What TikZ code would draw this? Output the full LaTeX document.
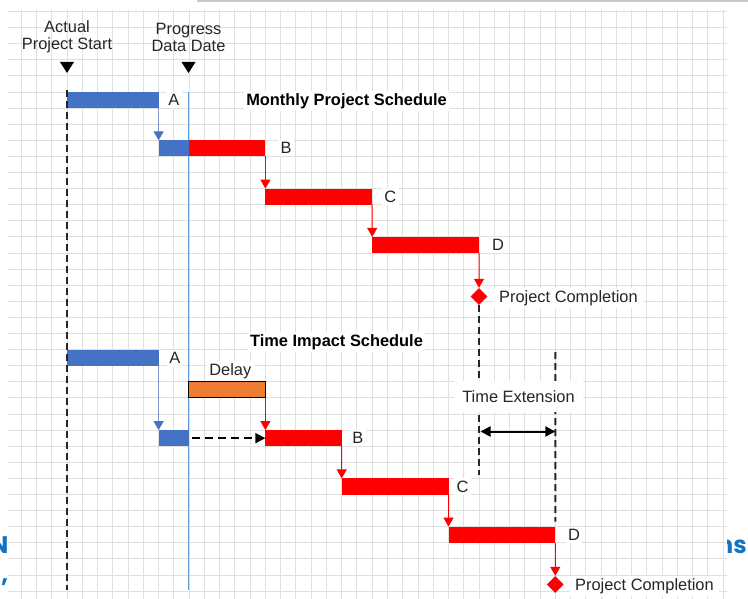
\documentclass[tikz,border=0pt]{standalone}
\usepackage{fontspec}
\setmainfont{Liberation Sans}
\newfontfamily\webfont{Poppins}
\usetikzlibrary{arrows.meta,shapes.geometric,calc}

\definecolor{barblue}{HTML}{4472C4}
\definecolor{barred}{HTML}{FF0000}
\definecolor{delayorange}{HTML}{ED7D31}
\definecolor{dateline}{HTML}{5B9BD5}
\definecolor{gridgray}{HTML}{E0E0E0}
\definecolor{ink}{HTML}{262626}
\definecolor{linkblue}{HTML}{1273C4}
\definecolor{linkline}{HTML}{7F96C8}
\definecolor{topbar}{HTML}{C8C8C8}

\begin{document}
\begin{tikzpicture}[x=1pt,y=-1pt,
  gridline/.style={draw=gridgray,line width=0.9pt},
  bar/.style={rectangle,inner sep=0pt,outer sep=0pt,anchor=north west,minimum height=16.1pt},
  bluebar/.style={bar,fill=barblue},
  redbar/.style={bar,fill=barred},
  delaybar/.style={bar,fill=delayorange,draw=black,line width=0.9pt},
  milestone/.style={diamond,fill=barred,inner sep=0pt,minimum size=17pt},
  txt/.style={text=ink,font=\fontsize{16.4}{17}\selectfont},
  lbl/.style={txt,fill=white,inner sep=2.5pt},
  heading/.style={lbl,text=black,font=\bfseries\fontsize{16.4}{19}\selectfont},
  bluelink/.style={draw=linkline,line width=1pt,-{Triangle[width=10pt,length=9pt,color=barblue]}},
  redlink/.style={draw=barred,line width=1pt,-{Triangle[width=10pt,length=9pt,color=barred]}},
  refline/.style={draw=ink,line width=2pt,dash pattern=on 7pt off 4pt},
  webfrag/.style={text=linkblue,inner sep=0pt,font=\webfont\bfseries\fontsize{24}{26}\selectfont}
]
\useasboundingbox (0,0) rectangle (748,599);
\fill[white] (0,0) rectangle (748,599);
\fill[topbar] (197,0) rectangle (748,2.5);

% page text running behind the figure
\begin{scope}
  \clip (0,0) rectangle (8,599);
  \node[webfrag,anchor=base east] (fragN) at (8.5,553) {N};
  \node[webfrag,anchor=base east] (fragComma) at (8.5,582) {,};
\end{scope}
\begin{scope}
  \clip (727,0) rectangle (748,599);
  \node[webfrag,anchor=base east] (fragNs) at (747,553) {ns};
\end{scope}

% squared paper
\begin{scope}
  \clip (8,11) rectangle (727,599);
  \foreach \k in {-4,...,43} \draw[gridline] ({67+15.26*\k},0) -- ++(0,599);
  \foreach \k in {-5,...,31} \draw[gridline] (0,{92+16.1*\k}) -- ++(748,0);
\end{scope}

% headers and their markers
\node[txt,align=center,inner sep=0pt] (startLbl) at (67,37.2) {Actual\\Project Start};
\node[txt,align=center,inner sep=0pt] (dateLbl) at (188.5,37.2) {Progress\\Data Date};
\coordinate (startMark) at (67,62);
\coordinate (dateMark) at (188.5,62);
\fill[black] (startMark) ++(-7,0) -- ++(14,0) -- ++(-7,11) -- cycle;
\fill[black] (dateMark) ++(-7,0) -- ++(14,0) -- ++(-7,11) -- cycle;

% progress data date line
\coordinate (dateTop) at (188.5,92);
\coordinate (dateBot) at (188.5,590);
\draw[dateline,line width=1.5pt] (dateTop) -- (dateBot);

% ---- monthly project schedule ----
\node[bluebar,minimum width=91.6pt] (mA) at (67,92) {};
\node[bluebar,minimum width=29.9pt] (mA2) at (158.6,140.3) {};
\node[redbar,minimum width=76.9pt] (mB) at (188.5,140.3) {};
\node[redbar,minimum width=106.8pt] (mC) at (265.4,188.6) {};
\node[redbar,minimum width=106.8pt] (mD) at (372.2,236.9) {};
\node[milestone] (mEnd) at (479,296.5) {};

\draw[bluelink] (mA.south east) -- (mA2.north west);
\draw[redlink] (mB.south east) -- (mC.north west);
\draw[redlink] (mC.south east) -- (mD.north west);
\draw[redlink] (mD.south east) -- (mEnd.north);

\node[lbl,anchor=west,xshift=7pt] (mAl) at (mA.east) {A};
\node[lbl,anchor=west,xshift=12.5pt] (mBl) at (mB.east) {B};
\node[lbl,anchor=west,xshift=9.5pt] (mCl) at (mC.east) {C};
\node[lbl,anchor=west,xshift=10.5pt] (mDl) at (mD.east) {D};
\node[heading,anchor=base] (mTitle) at (346.5,105.5) {Monthly Project Schedule};

% ---- time impact schedule ----
\node[bluebar,minimum width=91.6pt] (tA) at (67,349.6) {};
\node[delaybar,minimum width=76.9pt] (delay) at (188.5,381.8) {};
\node[bluebar,minimum width=29.9pt] (tA2) at (158.6,430.1) {};
\node[redbar,minimum width=76.3pt] (tB) at (265.4,430.1) {};
\node[redbar,minimum width=106.8pt] (tC) at (341.7,478.4) {};
\node[redbar,minimum width=106.8pt] (tD) at (448.5,526.7) {};
\node[milestone] (tEnd) at (555.3,584.5) {};

\draw[bluelink] (tA.south east) -- (tA2.north west);
\draw[redlink] (delay.south east) -- (tB.north west);
\draw[draw=black,line width=1.5pt,dash pattern=on 8pt off 5pt,
      -{Triangle[width=10pt,length=10pt]},shorten <=3pt] (tA2.east) -- (tB.west);
\draw[redlink] (tB.south east) -- (tC.north west);
\draw[redlink] (tC.south east) -- (tD.north west);
\draw[redlink] (tD.south east) -- (tEnd.north);

\node[lbl,anchor=west,xshift=8pt] (tAl) at (tA.east) {A};
\node[lbl,anchor=west,xshift=8pt] (tBl) at (tB.east) {B};
\node[lbl,anchor=west,xshift=5.5pt] (tCl) at (tC.east) {C};
\node[lbl,anchor=west,xshift=10pt] (tDl) at (tD.east) {D};
\node[lbl,anchor=base] (delayLbl) at (230.3,375) {Delay};
\node[heading,anchor=base] (tTitle) at (336.5,346) {Time Impact Schedule};

% reference lines
\coordinate (startTop) at (67,90);
\coordinate (startBot) at (67,590);
\draw[refline] (startTop) -- (startBot);
\coordinate (oldEndBot) at (479,475);
\coordinate (newEndTop) at (555.3,352);
\draw[refline] (mEnd.south) -- (oldEndBot);
\draw[refline,shorten >=5pt] (newEndTop) -- (tD.north east);

% time extension
\node[txt,fill=white,inner xsep=8pt,inner ysep=9.5pt,anchor=base] (extLbl) at (518.5,402.3) {Time Extension};
\coordinate (extL) at (480.5,431.5);
\coordinate (extR) at (555.3,431.5);
\draw[black,line width=2pt,{Triangle[width=10pt,length=10pt]}-{Triangle[width=10pt,length=10pt]}] (extL) -- (extR);

% completion labels
\node[lbl,anchor=base west,inner xsep=5pt] (mEndLbl) at (494,302.3) {Project Completion};
\node[lbl,anchor=base west,inner xsep=5pt] (tEndLbl) at (570,590.3) {Project Completion};
\end{tikzpicture}
\end{document}
